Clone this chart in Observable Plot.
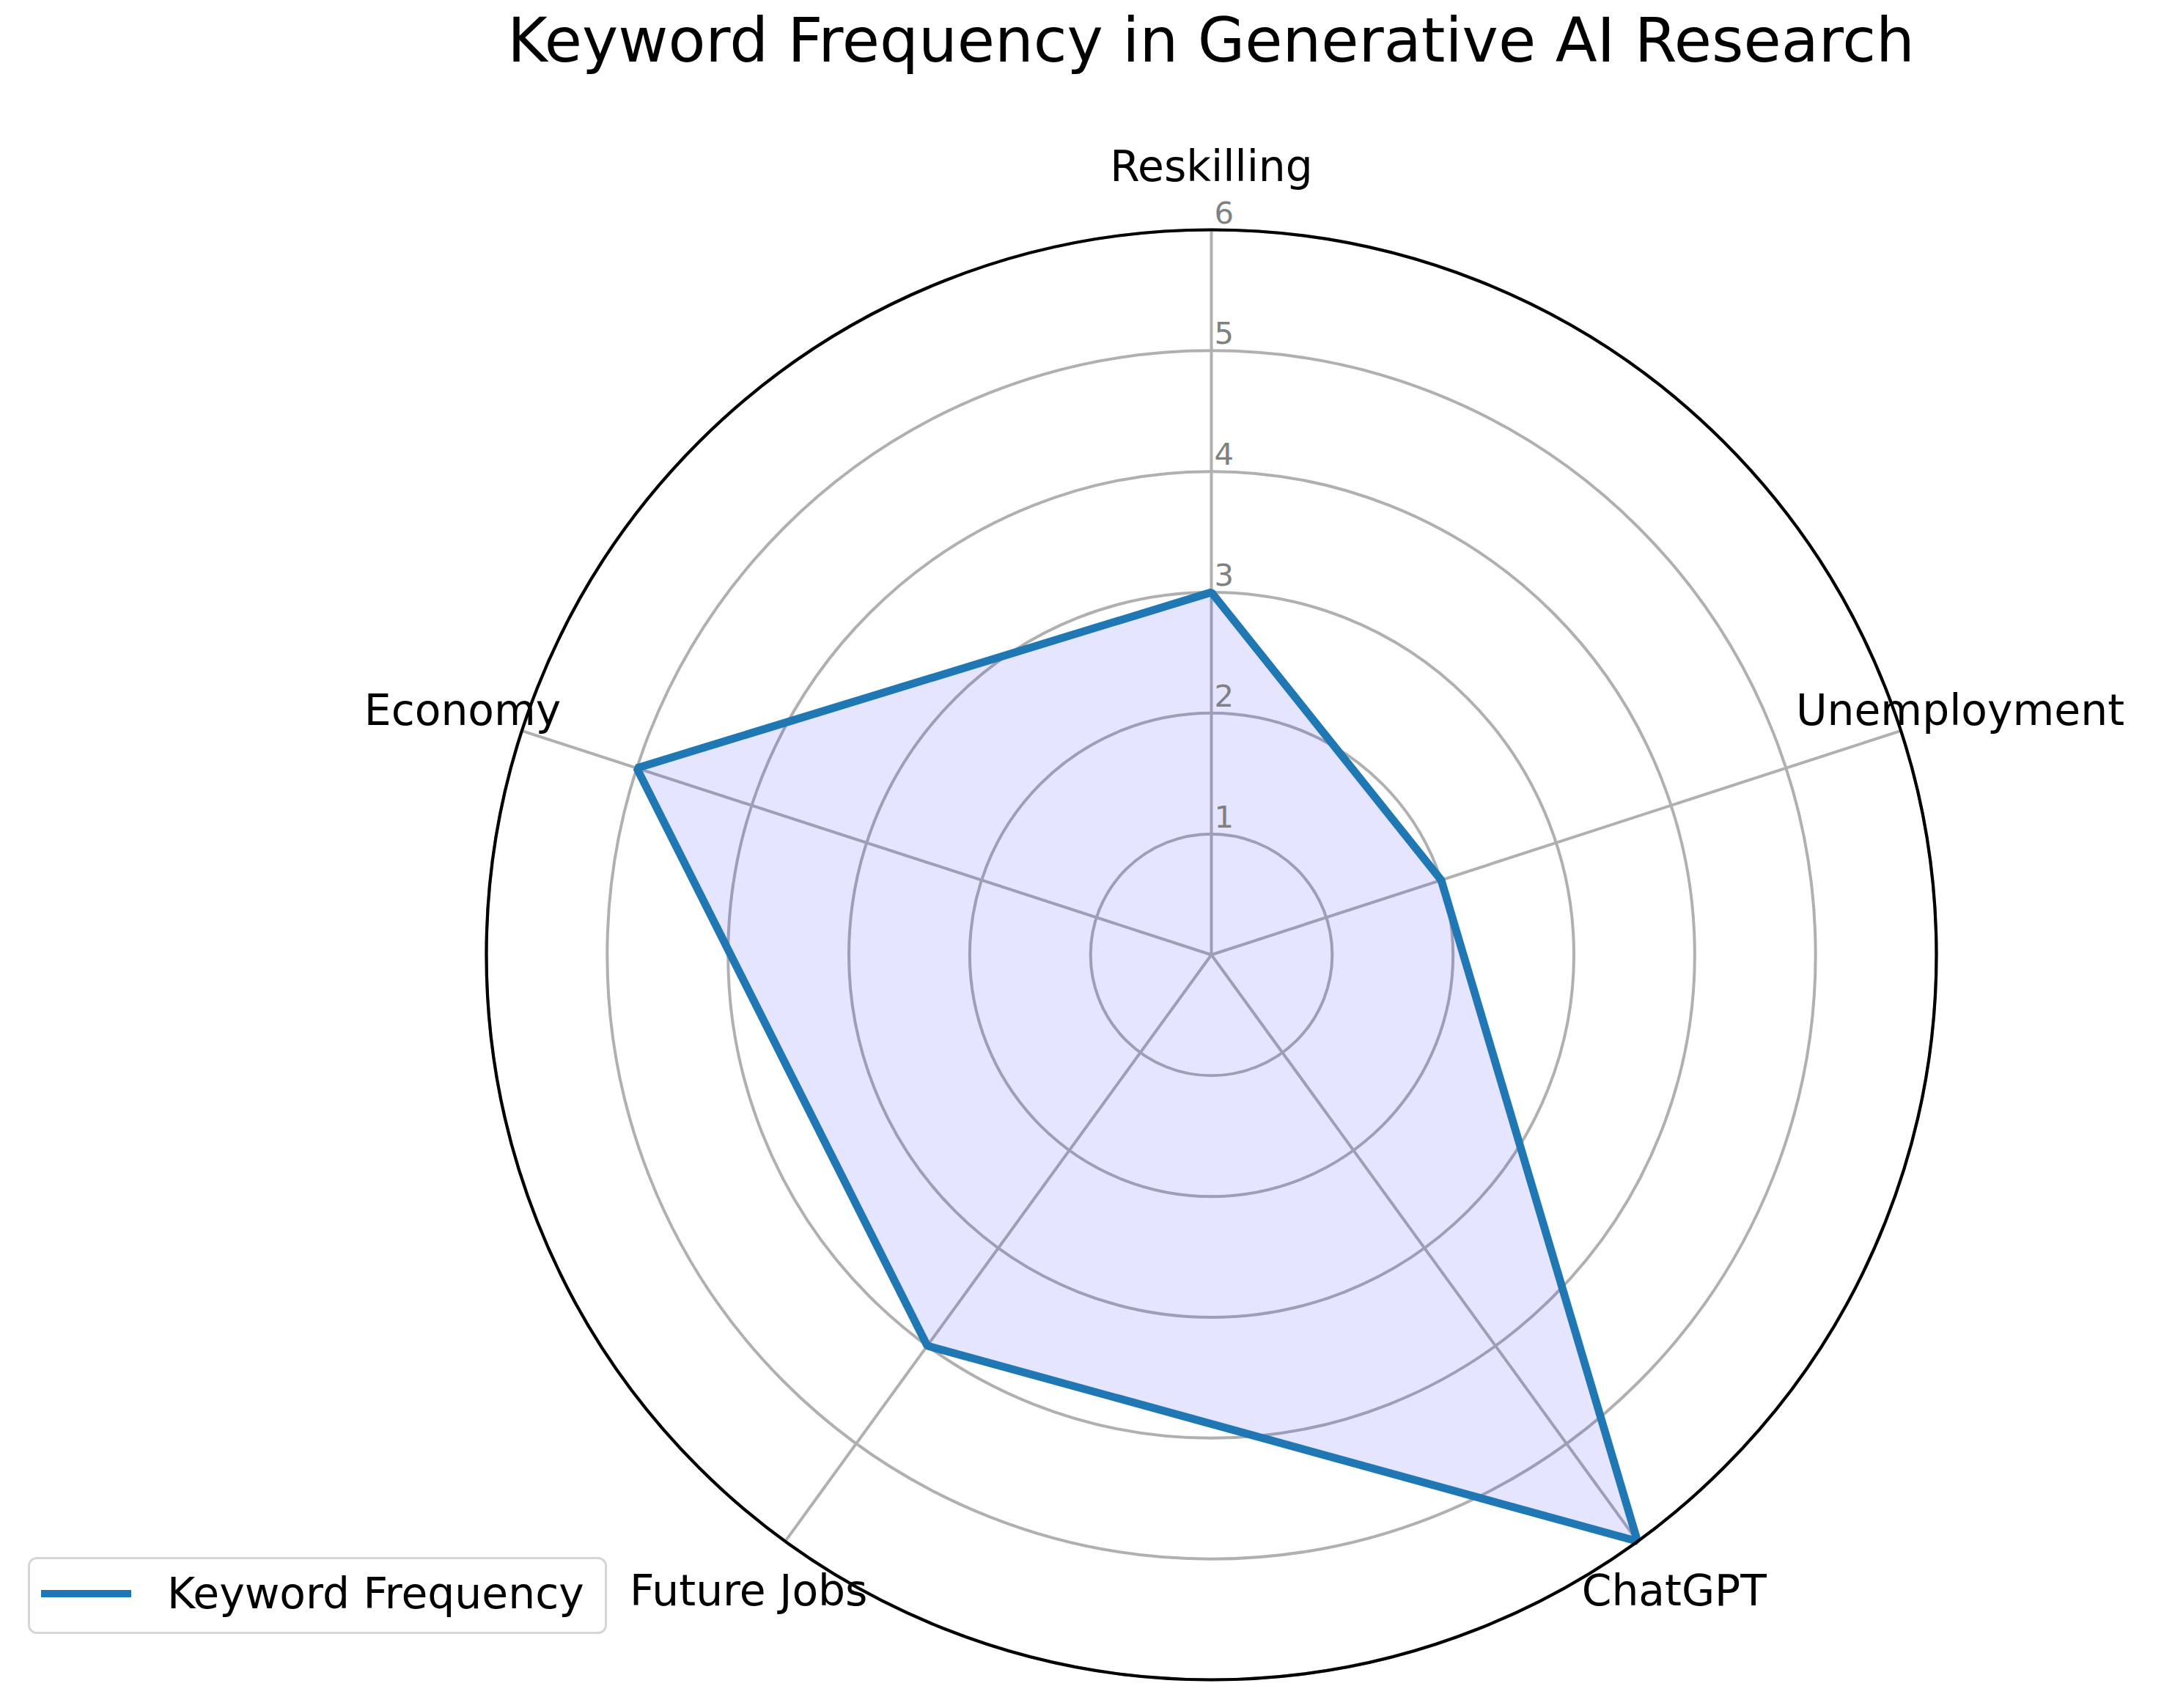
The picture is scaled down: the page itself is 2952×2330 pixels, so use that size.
<!DOCTYPE html>
<html><head><meta charset="utf-8">
<script src="https://cdn.jsdelivr.net/npm/d3@7"></script>
<script src="https://cdn.jsdelivr.net/npm/@observablehq/plot@0.6"></script>
<style>
body{margin:0;background:#fff;}
#wrap{position:relative;width:2952px;height:2330px;font-family:"DejaVu Sans",sans-serif;overflow:hidden;}
#title{position:absolute;left:1652px;top:6px;transform:translateX(-50%);white-space:nowrap;font-size:83.3px;line-height:100px;color:#000;}
#chart{position:absolute;left:0;top:130px;}
#legend{position:absolute;left:38px;top:2124px;width:790px;height:105px;box-sizing:border-box;border:3.6px solid #d6d6d6;border-radius:12px;background:rgba(255,255,255,0.8);}
#legend .swatch{position:absolute;left:15px;top:42px;width:123px;height:10.4px;background:#1f77b4;}
#legend .lab{position:absolute;left:187px;top:18px;font-size:58.3px;line-height:58.3px;color:#000;white-space:nowrap;}
</style></head>
<body>
<div id="wrap">
  <div id="title">Keyword Frequency in Generative AI Research</div>
  <div id="chart"></div>
  <div id="legend"><div class="swatch"></div><div class="lab">Keyword Frequency</div></div>
</div>
<script>
const categories = ["Reskilling", "Unemployment", "ChatGPT", "Future Jobs", "Economy"];
const values = [3, 2, 6, 4, 5];
const radialTicks = [1, 2, 3, 4, 5, 6];
const rMax = 6;

const cx = 1652, cy = 1172, R = 989;
const pxPerUnit = R / rMax;
const labelR = rMax + 85 / pxPerUnit;

const n = categories.length;
const angle = i => i * 2 * Math.PI / n;
const pts = categories.map((c, i) => ({category: c, value: values[i], a: angle(i)}));

const chart = Plot.plot({
  width: 2952,
  height: 2200,
  margin: 0,
  style: {fontFamily: "DejaVu Sans, sans-serif", background: "white"},
  x: {domain: [-rMax, rMax], range: [cx - R, cx + R], axis: null},
  y: {domain: [-rMax, rMax], range: [cy + R, cy - R], axis: null},
  r: {type: "linear", domain: [0, rMax], range: [0, R]},
  marks: [
    Plot.dot(radialTicks, {x: () => 0, y: () => 0, r: d => d, fill: "none", stroke: "#b0b0b0", strokeWidth: 4}),
    Plot.link(pts, {x1: () => 0, y1: () => 0, x2: d => rMax * Math.sin(d.a), y2: d => rMax * Math.cos(d.a), stroke: "#b0b0b0", strokeWidth: 4}),
    Plot.line(pts, {x: d => d.value * Math.sin(d.a), y: d => d.value * Math.cos(d.a), curve: "linear-closed",
      fill: "blue", fillOpacity: 0.1, stroke: "#1f77b4", strokeWidth: 10.8, strokeLinejoin: "miter"}),
    Plot.dot([rMax], {x: () => 0, y: () => 0, r: d => d, fill: "none", stroke: "black", strokeWidth: 4.2}),
    Plot.text(radialTicks, {x: () => 0, y: d => d, text: d => String(d), textAnchor: "start", lineAnchor: "bottom",
      dx: 4, dy: -9, fontSize: 41.7, fill: "gray"}),
    Plot.text(pts, {x: d => labelR * Math.sin(d.a), y: d => labelR * Math.cos(d.a), text: "category",
      textAnchor: "middle", lineAnchor: "middle", fontSize: 58.3, fill: "black"})
  ]
});
document.getElementById("chart").appendChild(chart);
</script>
</body></html>
